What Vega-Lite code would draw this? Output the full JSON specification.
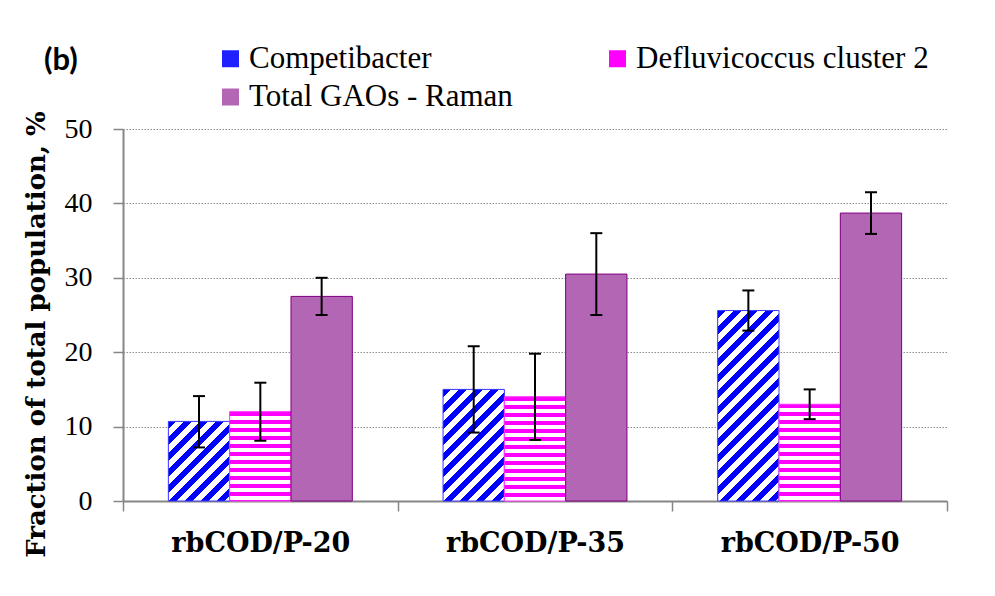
{
  "$schema": "https://vega.github.io/schema/vega-lite/v6.json",
  "width": 824,
  "height": 372,
  "autosize": {"type": "none"},
  "padding": {"left": 123, "top": 129, "right": 48, "bottom": 95},
  "background": "white",
  "params": [
    {"name": "stopsB", "expr": "[{offset:0,color:'#0000ff'},{offset:0.03125,color:'#0000ff'},{offset:0.03125,color:'#fff'},{offset:0.0625,color:'#fff'},{offset:0.0625,color:'#0000ff'},{offset:0.09375,color:'#0000ff'},{offset:0.09375,color:'#fff'},{offset:0.125,color:'#fff'},{offset:0.125,color:'#0000ff'},{offset:0.15625,color:'#0000ff'},{offset:0.15625,color:'#fff'},{offset:0.1875,color:'#fff'},{offset:0.1875,color:'#0000ff'},{offset:0.21875,color:'#0000ff'},{offset:0.21875,color:'#fff'},{offset:0.25,color:'#fff'},{offset:0.25,color:'#0000ff'},{offset:0.28125,color:'#0000ff'},{offset:0.28125,color:'#fff'},{offset:0.3125,color:'#fff'},{offset:0.3125,color:'#0000ff'},{offset:0.34375,color:'#0000ff'},{offset:0.34375,color:'#fff'},{offset:0.375,color:'#fff'},{offset:0.375,color:'#0000ff'},{offset:0.40625,color:'#0000ff'},{offset:0.40625,color:'#fff'},{offset:0.4375,color:'#fff'},{offset:0.4375,color:'#0000ff'},{offset:0.46875,color:'#0000ff'},{offset:0.46875,color:'#fff'},{offset:0.5,color:'#fff'},{offset:0.5,color:'#0000ff'},{offset:0.53125,color:'#0000ff'},{offset:0.53125,color:'#fff'},{offset:0.5625,color:'#fff'},{offset:0.5625,color:'#0000ff'},{offset:0.59375,color:'#0000ff'},{offset:0.59375,color:'#fff'},{offset:0.625,color:'#fff'},{offset:0.625,color:'#0000ff'},{offset:0.65625,color:'#0000ff'},{offset:0.65625,color:'#fff'},{offset:0.6875,color:'#fff'},{offset:0.6875,color:'#0000ff'},{offset:0.71875,color:'#0000ff'},{offset:0.71875,color:'#fff'},{offset:0.75,color:'#fff'},{offset:0.75,color:'#0000ff'},{offset:0.78125,color:'#0000ff'},{offset:0.78125,color:'#fff'},{offset:0.8125,color:'#fff'},{offset:0.8125,color:'#0000ff'},{offset:0.84375,color:'#0000ff'},{offset:0.84375,color:'#fff'},{offset:0.875,color:'#fff'},{offset:0.875,color:'#0000ff'},{offset:0.90625,color:'#0000ff'},{offset:0.90625,color:'#fff'},{offset:0.9375,color:'#fff'},{offset:0.9375,color:'#0000ff'},{offset:0.96875,color:'#0000ff'},{offset:0.96875,color:'#fff'},{offset:1,color:'#fff'}]"},
    {"name": "stopsM", "expr": "[{offset:0,color:'#ff00ff'},{offset:0.03125,color:'#ff00ff'},{offset:0.03125,color:'#fff'},{offset:0.0625,color:'#fff'},{offset:0.0625,color:'#ff00ff'},{offset:0.09375,color:'#ff00ff'},{offset:0.09375,color:'#fff'},{offset:0.125,color:'#fff'},{offset:0.125,color:'#ff00ff'},{offset:0.15625,color:'#ff00ff'},{offset:0.15625,color:'#fff'},{offset:0.1875,color:'#fff'},{offset:0.1875,color:'#ff00ff'},{offset:0.21875,color:'#ff00ff'},{offset:0.21875,color:'#fff'},{offset:0.25,color:'#fff'},{offset:0.25,color:'#ff00ff'},{offset:0.28125,color:'#ff00ff'},{offset:0.28125,color:'#fff'},{offset:0.3125,color:'#fff'},{offset:0.3125,color:'#ff00ff'},{offset:0.34375,color:'#ff00ff'},{offset:0.34375,color:'#fff'},{offset:0.375,color:'#fff'},{offset:0.375,color:'#ff00ff'},{offset:0.40625,color:'#ff00ff'},{offset:0.40625,color:'#fff'},{offset:0.4375,color:'#fff'},{offset:0.4375,color:'#ff00ff'},{offset:0.46875,color:'#ff00ff'},{offset:0.46875,color:'#fff'},{offset:0.5,color:'#fff'},{offset:0.5,color:'#ff00ff'},{offset:0.53125,color:'#ff00ff'},{offset:0.53125,color:'#fff'},{offset:0.5625,color:'#fff'},{offset:0.5625,color:'#ff00ff'},{offset:0.59375,color:'#ff00ff'},{offset:0.59375,color:'#fff'},{offset:0.625,color:'#fff'},{offset:0.625,color:'#ff00ff'},{offset:0.65625,color:'#ff00ff'},{offset:0.65625,color:'#fff'},{offset:0.6875,color:'#fff'},{offset:0.6875,color:'#ff00ff'},{offset:0.71875,color:'#ff00ff'},{offset:0.71875,color:'#fff'},{offset:0.75,color:'#fff'},{offset:0.75,color:'#ff00ff'},{offset:0.78125,color:'#ff00ff'},{offset:0.78125,color:'#fff'},{offset:0.8125,color:'#fff'},{offset:0.8125,color:'#ff00ff'},{offset:0.84375,color:'#ff00ff'},{offset:0.84375,color:'#fff'},{offset:0.875,color:'#fff'},{offset:0.875,color:'#ff00ff'},{offset:0.90625,color:'#ff00ff'},{offset:0.90625,color:'#fff'},{offset:0.9375,color:'#fff'},{offset:0.9375,color:'#ff00ff'},{offset:0.96875,color:'#ff00ff'},{offset:0.96875,color:'#fff'},{offset:1,color:'#fff'}]"}
  ],
  "title": {
    "text": "(b)",
    "anchor": "start",
    "frame": "group",
    "orient": "top",
    "font": "Lato",
    "fontWeight": "bold",
    "fontSize": 31,
    "baseline": "alphabetic",
    "offset": 0,
    "dx": -79,
    "dy": 58,
    "color": "black"
  },
  "data": {
    "values": [
      {"condition": "rbCOD/P-20", "series": "Competibacter", "value": 10.7, "lo": 7.2, "hi": 14.1},
      {"condition": "rbCOD/P-20", "series": "Defluvicoccus cluster 2", "value": 12.0, "lo": 8.1, "hi": 15.9},
      {"condition": "rbCOD/P-20", "series": "Total GAOs - Raman", "value": 27.5, "lo": 25.0, "hi": 30.0},
      {"condition": "rbCOD/P-35", "series": "Competibacter", "value": 15.0, "lo": 9.2, "hi": 20.8},
      {"condition": "rbCOD/P-35", "series": "Defluvicoccus cluster 2", "value": 14.0, "lo": 8.2, "hi": 19.8},
      {"condition": "rbCOD/P-35", "series": "Total GAOs - Raman", "value": 30.5, "lo": 25.0, "hi": 36.0},
      {"condition": "rbCOD/P-50", "series": "Competibacter", "value": 25.6, "lo": 22.9, "hi": 28.3},
      {"condition": "rbCOD/P-50", "series": "Defluvicoccus cluster 2", "value": 13.0, "lo": 11.0, "hi": 15.0},
      {"condition": "rbCOD/P-50", "series": "Total GAOs - Raman", "value": 38.7, "lo": 35.9, "hi": 41.5}
    ]
  },
  "encoding": {
    "x": {
      "field": "condition",
      "type": "nominal",
      "sort": null,
      "scale": {"paddingInner": 0, "paddingOuter": 0},
      "axis": {
        "title": null,
        "labelAngle": 0,
        "tickBand": "extent",
        "labelFont": "DejaVu Serif",
        "labelFontWeight": "bold",
        "labelFontSize": 27,
        "labelColor": "black",
        "labelBaseline": "top",
        "labelPadding": 19,
        "tickSize": 10,
        "tickColor": "#868686",
        "tickWidth": 1.5,
        "domainColor": "#868686",
        "domainWidth": 2
      }
    },
    "xOffset": {
      "field": "series",
      "type": "nominal",
      "scale": {"domain": ["Competibacter", "Defluvicoccus cluster 2", "Total GAOs - Raman"], "paddingInner": 0, "paddingOuter": 0.74}
    }
  },
  "layer": [
    {
      "mark": {"type": "bar"},
      "encoding": {
        "y": {
          "field": "value",
          "type": "quantitative",
          "scale": {"domain": [0, 50]},
          "title": "Fraction of total population, %",
          "axis": {
            "values": [0, 10, 20, 30, 40, 50],
            "titleFont": "DejaVu Serif",
            "titleFontWeight": "bold",
            "titleFontSize": 26,
            "titleColor": "black",
            "titleAngle": -90,
            "titleBaseline": "middle",
            "titleAlign": "center",
            "titleX": -87,
            "titleY": 205,
            "labelFont": "Liberation Serif",
            "labelFontSize": 28,
            "labelColor": "black",
            "labelPadding": 21,
            "tickSize": 10,
            "tickColor": "#868686",
            "tickWidth": 1.5,
            "domainColor": "#868686",
            "domainWidth": 2,
            "gridColor": "#8c8c8c",
            "gridDash": [1.5, 1.5],
            "gridWidth": 1
          }
        },
        "color": {
          "field": "series",
          "type": "nominal",
          "scale": {"domain": ["Competibacter", "Defluvicoccus cluster 2", "Total GAOs - Raman"], "range": ["#2020ff", "#ff00ff", "#b366b3"]},
          "legend": {
            "orient": "none",
            "direction": "horizontal",
            "legendX": 92,
            "legendY": -86,
            "title": null,
            "columns": 2,
            "gridAlign": "each",
            "columnPadding": 89,
            "rowPadding": 6.5,
            "padding": 0,
            "symbolType": "square",
            "symbolSize": 289,
            "symbolStrokeWidth": 0,
            "labelFont": "Liberation Serif",
            "labelFontSize": 31,
            "labelColor": "black",
            "labelOffset": 3,
            "labelLimit": 600
          }
        }
      }
    },
    {
      "mark": {
        "type": "bar",
        "fill": {"expr": "datum.series === 'Competibacter' ? {gradient: 'linear', x1: 0, y1: 0, x2: 15692.8/(3757.69+pow(datum.value*7.44,2)), y2: datum.value*7.44*256/(3757.69+pow(datum.value*7.44,2)), stops: stopsB} : (datum.series === 'Defluvicoccus cluster 2' ? {gradient: 'linear', x1: 0, y1: 0, x2: 0, y2: 128/(datum.value*7.44), stops: stopsM} : '#b366b3')"},
        "stroke": {"expr": "datum.series === 'Competibacter' ? '#3b3bff' : (datum.series === 'Defluvicoccus cluster 2' ? '#ff33ff' : '#800080')"},
        "strokeWidth": 1
      },
      "encoding": {
        "y": {"field": "value", "type": "quantitative", "scale": {"domain": [0, 50]}, "title": "Fraction of total population, %"}
      }
    },
    {
      "mark": {"type": "rule", "color": "black", "strokeWidth": 2},
      "encoding": {
        "y": {"field": "lo", "type": "quantitative", "scale": {"domain": [0, 50]}, "title": "Fraction of total population, %"},
        "y2": {"field": "hi"}
      }
    },
    {
      "mark": {"type": "tick", "color": "black", "thickness": 2, "size": 12},
      "encoding": {
        "y": {"field": "lo", "type": "quantitative", "scale": {"domain": [0, 50]}, "title": "Fraction of total population, %"}
      }
    },
    {
      "mark": {"type": "tick", "color": "black", "thickness": 2, "size": 12},
      "encoding": {
        "y": {"field": "hi", "type": "quantitative", "scale": {"domain": [0, 50]}, "title": "Fraction of total population, %"}
      }
    }
  ],
  "config": {
    "view": {"stroke": null},
    "tick": {"opacity": 1},
    "legend": {"labelFont": "Liberation Serif", "labelFontSize": 31}
  }
}
